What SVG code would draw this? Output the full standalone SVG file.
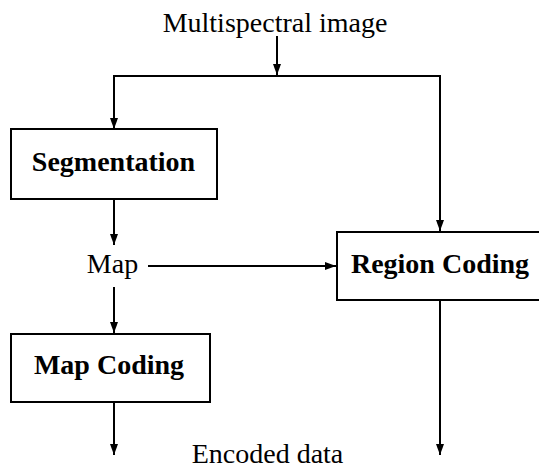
<svg xmlns="http://www.w3.org/2000/svg" width="539" height="471" viewBox="0 0 539 471">
  <defs>
    <style>
      .box { fill: #fff; stroke: #000; stroke-width: 2; }
      text { font-family: 'Liberation Serif', 'DejaVu Serif', serif; font-size: 28px; text-anchor: middle; fill: #000; }
      .title { font-weight: bold; }
      .wire { fill: none; stroke: #000; stroke-width: 2; }
    </style>
    <marker id="arrow" markerUnits="userSpaceOnUse" markerWidth="12" markerHeight="10" refX="11" refY="4" orient="auto">
      <path d="M0,0 L11,4 L0,8 Z" fill="#000"/>
    </marker>
  </defs>
  <rect width="539" height="471" fill="#fff"/>

  <text x="275" y="32">Multispectral image</text>

  <g id="connectors">
    <line class="wire" x1="277" y1="36" x2="277" y2="75" marker-end="url(#arrow)"/>
    <polyline class="wire" points="114,129 114,76 440,76 440,231" marker-end="url(#arrow)"/>
    <line class="wire" x1="114" y1="76" x2="114" y2="129" marker-end="url(#arrow)"/>
    <line class="wire" x1="114" y1="199" x2="114" y2="245" marker-end="url(#arrow)"/>
    <line class="wire" x1="148" y1="266" x2="336" y2="266" marker-end="url(#arrow)"/>
    <line class="wire" x1="114" y1="287" x2="114" y2="333" marker-end="url(#arrow)"/>
    <line class="wire" x1="114" y1="402" x2="114" y2="455" marker-end="url(#arrow)"/>
    <line class="wire" x1="440" y1="300" x2="440" y2="455" marker-end="url(#arrow)"/>
  </g>

  <g id="segmentation">
    <rect class="box" x="11" y="129" width="206" height="70"/>
    <text class="title" x="113.5" y="171">Segmentation</text>
  </g>

  <g id="map">
    <text x="112.5" y="273">Map</text>
  </g>

  <g id="region-coding">
    <rect class="box" x="337" y="232" width="220" height="68"/>
    <text class="title" x="440" y="273">Region Coding</text>
  </g>

  <g id="map-coding">
    <rect class="box" x="11" y="334" width="199" height="68"/>
    <text class="title" x="109" y="374">Map Coding</text>
  </g>

  <text x="267.5" y="463">Encoded data</text>
</svg>
